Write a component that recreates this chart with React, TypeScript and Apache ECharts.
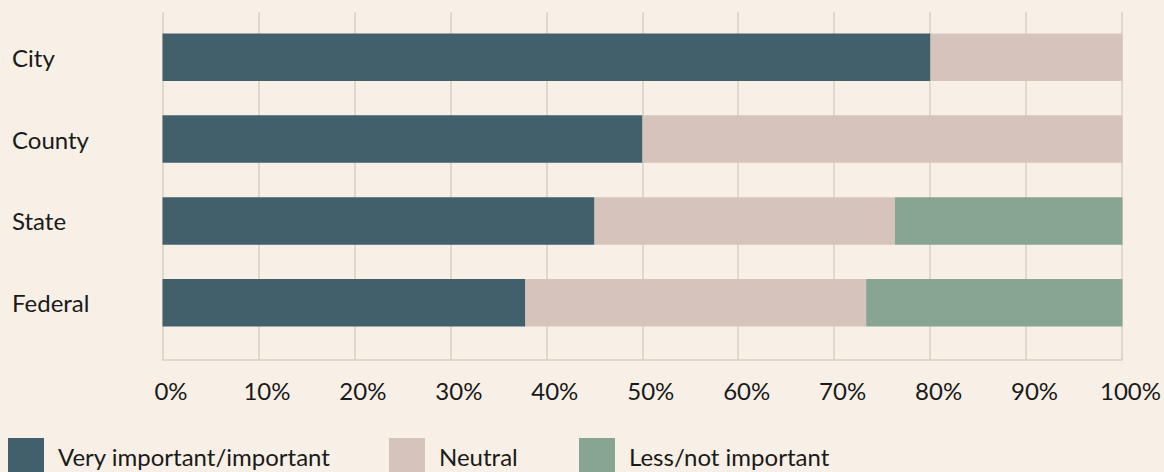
import React, { useEffect, useRef } from "react";
import * as echarts from "echarts";

const categories = ["City", "County", "State", "Federal"];
const seriesNames = ["Very important/important", "Neutral", "Less/not important"];
const veryImportant = [80, 50, 45, 37.8];
const neutral = [20, 50, 31.3, 35.5];
const lessImportant = [0, 0, 23.7, 26.7];
const colors = ["#41606c", "#d6c3bb", "#88a593"];

const FONT = "Lato, 'Noto Sans', sans-serif";
const TEXT = "#1a1a1a";
const GRID_LINE = "#d8d0c5";

export default function App() {
  const ref = useRef<HTMLDivElement>(null);
  useEffect(() => {
    if (!ref.current) return;
    const chart = echarts.init(ref.current, null, { renderer: "svg" });
    const values = [veryImportant, neutral, lessImportant];
    const legendLefts = [8, 389, 579];
    chart.setOption({
      animation: false,
      backgroundColor: "#f8f0e6",
      textStyle: { fontFamily: FONT },
      grid: [
        { left: 162.5, right: 41.5, top: 12, height: 348 },
        { left: 162.5, right: 41.5, top: 16.4, height: 327.2 },
      ],
      xAxis: [
        {
          gridIndex: 0,
          type: "value",
          min: 0,
          max: 100,
          interval: 10,
          axisLine: { show: true, lineStyle: { color: GRID_LINE, width: 1.5 } },
          axisTick: { show: false },
          splitLine: { show: true, lineStyle: { color: GRID_LINE, width: 1.5 } },
          axisLabel: {
            formatter: "{value}%",
            color: TEXT,
            fontSize: 24,
            fontFamily: FONT,
            margin: 18,
            padding: [0, 0, 0, 17],
          },
        },
        {
          gridIndex: 1,
          type: "value",
          min: 0,
          max: 100,
          show: false,
        },
      ],
      yAxis: [
        {
          gridIndex: 0,
          type: "category",
          data: [],
          show: false,
        },
        {
          gridIndex: 1,
          type: "category",
          data: categories,
          inverse: true,
          axisLine: { show: false },
          axisTick: { show: false },
          axisLabel: {
            color: TEXT,
            fontSize: 24,
            fontFamily: FONT,
            align: "left",
            margin: 150.5,
          },
        },
      ],
      legend: seriesNames.map((n, i) => ({
        data: [n],
        left: legendLefts[i],
        top: 438,
        itemWidth: 36,
        itemHeight: 36,
        icon: "rect",
        padding: 0,
        textStyle: { color: TEXT, fontSize: 24, fontFamily: FONT, padding: [0, 0, 0, 9] },
      })),
      series: seriesNames.map((n, i) => ({
        name: n,
        type: "bar",
        stack: "total",
        xAxisIndex: 1,
        yAxisIndex: 1,
        barWidth: 47.5,
        data: values[i],
        itemStyle: { color: colors[i] },
      })),
    });
    return () => chart.dispose();
  }, []);
  return (
    <div
      ref={ref}
      style={{ position: "fixed", left: 0, top: 0, width: 1164, height: 472 }}
    />
  );
}
